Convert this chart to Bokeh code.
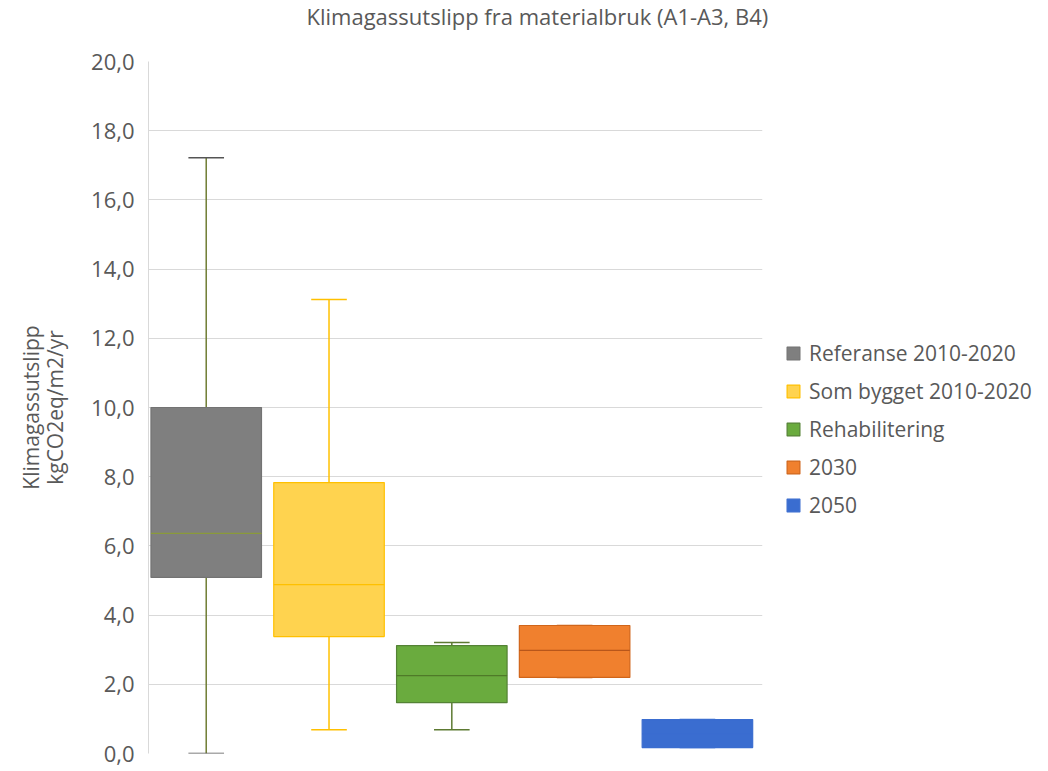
from bokeh.plotting import figure
from bokeh.models import (ColumnDataSource, FixedTicker, Legend, LegendItem, Title)
from bokeh.embed import file_html
from bokeh.resources import INLINE

# ---- data ----
categories = ["Referanse 2010-2020", "Som bygget 2010-2020", "Rehabilitering", "2030", "2050"]
whisker_low = [0.0, 0.69, 0.69, 2.20, 0.17]
q1 = [5.09, 3.38, 1.47, 2.20, 0.17]
median = [6.36, 4.88, 2.25, 2.98, 0.57]
q3 = [10.0, 7.83, 3.12, 3.70, 0.98]
whisker_high = [17.22, 13.12, 3.21, 3.70, 0.98]
y_ticks = [0, 2, 4, 6, 8, 10, 12, 14, 16, 18, 20]
y_tick_labels = ["0,0", "2,0", "4,0", "6,0", "8,0", "10,0", "12,0", "14,0", "16,0", "18,0", "20,0"]
title_text = "Klimagassutslipp fra materialbruk (A1-A3, B4)"

# ---- styles ----
fill_colors = ["#7f7f7f", "#ffd34f", "#6aab3e", "#f0802e", "#3a6dd0"]
line_colors = ["#737373", "#ffc000", "#548235", "#d0651a", "#3a6dd0"]
whisker_colors = ["#6f7d33", "#ffc000", "#5d7a32", "#d0651a", "#3a6dd0"]
cap_colors = ["#555555", "#ffc000", "#5d7a32", "#d0651a", "#3a6dd0"]
median_colors = ["#8a9a3a", "#ffc000", "#4f7a28", "#b8561a", "#3a6dd0"]
FONT = "Open Sans"
TXT = "#595959"
box_w = 0.9
cap_w = 0.29

xs = [i + 1 for i in range(len(categories))]
src = ColumnDataSource(dict(
    x=xs, cat=categories,
    left=[x - box_w / 2 for x in xs], right=[x + box_w / 2 for x in xs],
    cl=[x - cap_w / 2 for x in xs], cr=[x + cap_w / 2 for x in xs],
    wl=whisker_low, q1=q1, med=median, q3=q3, wh=whisker_high,
    fill=fill_colors, line=line_colors, wc=whisker_colors, cc=cap_colors, mc=median_colors,
))

p = figure(frame_width=614, frame_height=692, x_range=(0.53, 5.53), y_range=(0, 20),
           output_backend="svg", toolbar_location=None,
           min_border_left=148, min_border_right=278, min_border_bottom=16, min_border_top=61)

# whiskers
p.segment(x0="x", y0="wl", x1="x", y1="q1", source=src, line_color="wc", line_width=1.5)
p.segment(x0="x", y0="q3", x1="x", y1="wh", source=src, line_color="wc", line_width=1.5)
# caps
p.segment(x0="cl", y0="wh", x1="cr", y1="wh", source=src, line_color="cc", line_width=1.5)
p.segment(x0="cl", y0="wl", x1="cr", y1="wl", source=src, line_color="cc", line_width=1.5)
# boxes
boxes = p.quad(left="left", right="right", bottom="q1", top="q3", source=src,
               fill_color="fill", line_color="line", line_width=1.2)
# medians
p.segment(x0="left", y0="med", x1="right", y1="med", source=src, line_color="mc", line_width=1.3)

# axes / grid
p.xaxis.visible = False
p.xgrid.visible = False
p.yaxis.ticker = FixedTicker(ticks=y_ticks)
p.yaxis.major_label_overrides = {t: l for t, l in zip(y_ticks, y_tick_labels)}
p.yaxis.major_tick_line_color = None
p.yaxis.minor_tick_line_color = None
p.yaxis.axis_line_color = "#d9d9d9"
p.yaxis.major_label_text_font = FONT
p.yaxis.major_label_text_font_size = "22px"
p.yaxis.major_label_text_color = TXT
p.yaxis.major_label_standoff = 8
p.yaxis.axis_label = "Klimagassutslipp\nkgCO2eq/m2/yr"
p.yaxis.axis_label_text_font = FONT
p.yaxis.axis_label_text_font_size = "21px"
p.yaxis.axis_label_text_font_style = "normal"
p.yaxis.axis_label_text_color = TXT
p.yaxis.axis_label_text_line_height = 0.85
p.yaxis.axis_label_standoff = 19
p.ygrid.grid_line_color = "#d9d9d9"
p.ygrid.grid_line_width = 1
p.outline_line_color = None
p.background_fill_color = "white"
p.border_fill_color = "white"

# title (trailing empty line reserves the space between title and plot)
p.title = Title(text=title_text + "\n", align="left", offset=158,
                text_font=FONT, text_font_size="22px", text_font_style="normal",
                text_color=TXT, standoff=0, vertical_align="top", text_line_height=0.95)

# legend
items = [LegendItem(label=c, renderers=[boxes], index=i) for i, c in enumerate(categories)]
legend = Legend(items=items, location=(23, 234), border_line_color=None,
                background_fill_alpha=0, padding=0, margin=0, spacing=10,
                glyph_width=16, glyph_height=16, label_height=22, label_standoff=8,
                label_text_font=FONT, label_text_font_size="21px", label_text_color=TXT)
p.add_layout(legend, "right")

open("out.html", "w").write(file_html(p, INLINE))
